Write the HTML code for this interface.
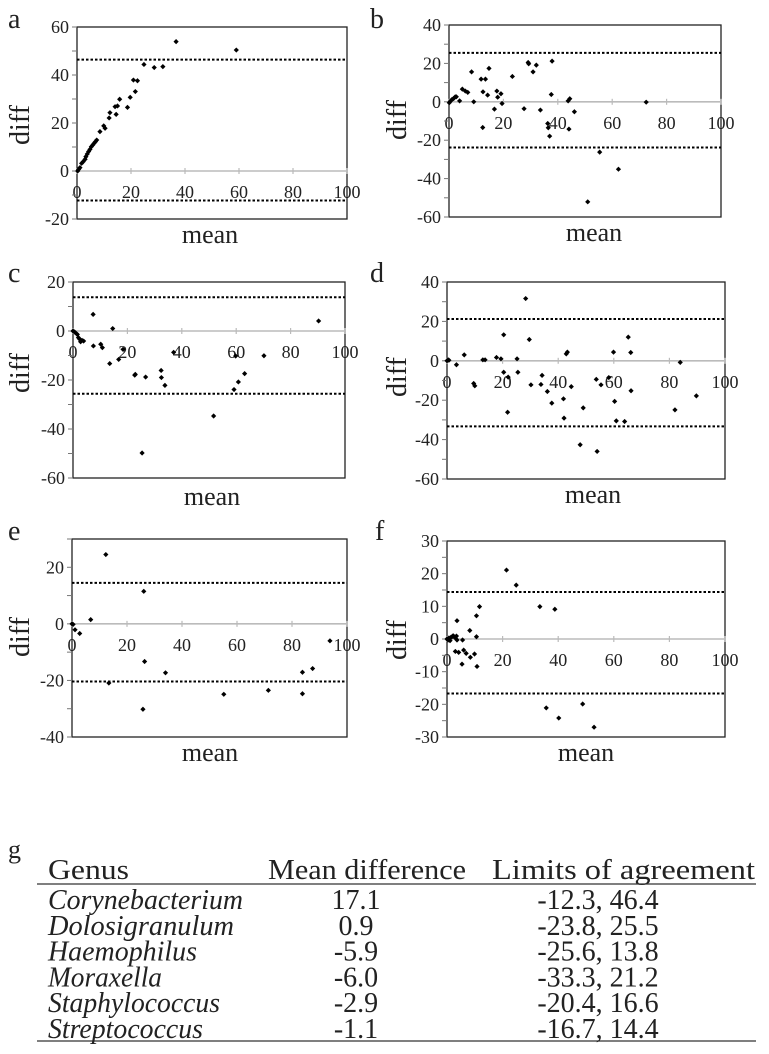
<!DOCTYPE html>
<html><head><meta charset="utf-8"><style>
body{margin:0;background:#fff;width:769px;height:1054px;overflow:hidden;font-family:"Liberation Serif",serif;}
svg{position:absolute;left:0;top:0}
text{font-family:"Liberation Serif",serif;fill:#222}
</style></head><body>
<svg id="fig" width="769" height="1054"></svg>
<script>
const aX=[0.25,0.6,1.1,1.7,2.3,3.0,3.3,3.8,4.3,4.8,5.3,5.8,6.3,6.8,7.3,8.5,9.9,10.4,11.9,12.2,14.1,14.5,15.0,15.8,18.7,19.7,20.9,21.6,22.4,24.8,28.6,31.8,36.7,59.0];
const aY=[0,0.7,1.4,3.2,3.9,4.9,6.0,7.1,8.1,9.0,10.1,10.8,11.5,12.2,12.9,16.4,18.8,17.8,22.1,24.3,26.8,23.6,27.1,29.9,26.5,30.7,37.9,33.1,37.6,44.4,43.1,43.5,53.9,50.4];
const bX=[0.1,0.5,1.1,1.7,2.3,2.7,3.9,4.9,6.0,6.9,8.3,9.1,11.8,12.4,12.5,13.4,14.2,14.7,16.7,17.6,17.9,19.1,19.5,23.3,27.6,29.1,29.3,30.9,32.1,33.6,36.3,36.5,37.0,37.6,37.9,43.8,44.1,44.4,46.1,51.0,55.4,62.3,72.5];
const bY=[-0.5,0.3,1.2,1.7,2.6,2.6,0.5,6.6,5.6,4.9,15.6,0,11.8,-13.4,5.2,11.8,3.5,17.4,-3.8,5.6,2.4,4.2,-0.9,13.2,-3.6,20.5,19.8,15.6,19.1,-4.3,-11.3,-13.5,-17.9,3.8,21.2,0.5,-14.2,1.6,-5.2,-52.1,-26.2,-35.1,-0.2];
const cX=[0,0.6,1.2,1.6,2.0,2.5,2.8,3.3,3.9,7.4,7.5,10.2,10.8,13.5,14.6,16.8,18.4,22.7,22.9,26.7,32.4,32.5,33.8,25.4,37.0,51.7,59.2,59.8,60.8,63.1,70.2,90.3];
const cY=[0,-0.4,-1.0,-1.4,-2.7,-3.4,-4.4,-3.8,-4.1,6.8,-6.1,-5.4,-6.8,-13.3,1.0,-11.6,-7.5,-18.0,-17.7,-18.8,-16.1,-19.0,-22.2,-49.8,-8.7,-34.7,-23.9,-10.2,-20.8,-17.4,-10.1,4.1];
const dX=[0,0.4,0.7,3.4,6.2,9.6,10.0,12.9,13.7,17.8,19.4,20.4,20.4,21.8,22.0,25.2,25.5,28.3,29.6,30.2,33.8,34.2,36.1,37.7,41.9,42.1,42.9,43.3,44.7,47.9,49.0,53.7,54.0,55.4,58.2,59.9,60.3,60.9,63.9,65.2,66.1,66.2,82.0,83.9,89.7];
const dY=[0,0.5,0.3,-2.0,3.0,-11.5,-12.7,0.5,0.5,1.7,1.0,13.2,-5.8,-26.1,-8.3,1.0,-5.8,31.6,10.8,-12.2,-12.0,-7.4,-15.6,-21.5,-19.3,-29.1,3.5,4.4,-13.1,-42.6,-23.9,-9.4,-46.0,-12.2,-8.5,4.4,-20.6,-30.5,-30.8,12.0,4.2,-15.2,-24.9,-0.8,-17.8];
const eX=[0,0.4,1.1,2.8,6.8,12.3,13.4,26.1,26.4,25.8,34.0,55.2,71.4,83.8,83.8,87.5,93.8];
const eY=[0,-0.2,-2.1,-3.4,1.5,24.5,-20.9,11.5,-13.3,-30.2,-17.3,-24.9,-23.5,-17.1,-24.7,-15.8,-6.0];
const fX=[0,0.4,0.7,1.1,1.4,1.8,2.2,2.6,3.0,3.4,3.6,3.6,3.0,4.2,5.4,5.6,6.0,6.9,8.2,8.4,9.9,10.6,10.6,10.8,11.7,21.4,24.9,33.4,35.7,38.8,40.2,48.8,52.9];
const fY=[0,-0.3,0.3,-0.5,0.5,0.7,1.0,0.7,0.3,0.9,-0.3,5.6,-3.8,-4.1,-7.7,-0.3,-3.4,-4.4,2.6,-5.6,-4.6,7.1,0.7,-8.4,9.9,21.1,16.5,9.9,-21.1,9.1,-24.2,-19.9,-27.0];
const limLower=[-12.3,-23.8,-25.6,-33.3,-20.4,-16.7];
const limUpper=[46.4,25.5,13.8,21.2,14.5,14.4];
const xTicks=[0,20,40,60,80,100];
const genus=["Corynebacterium","Dolosigranulum","Haemophilus","Moraxella","Staphylococcus","Streptococcus"];
const meanDiff=["17.1","0.9","-5.9","-6.0","-2.9","-1.1"];
const limitsText=["-12.3, 46.4","-23.8, 25.5","-25.6, 13.8","-33.3, 21.2","-20.4, 16.6","-16.7, 14.4"];
const genusWidths=[195,186,149,114,172,155];

const NS="http://www.w3.org/2000/svg";
const svg=document.getElementById('fig');
function mk(tag,attrs,parent){const e=document.createElementNS(NS,tag);for(const k in attrs)e.setAttribute(k,attrs[k]);(parent||svg).appendChild(e);return e;}

const panels=[
 {id:'a',L:77,R:347,T:27,B:219,ymin:-20,ymax:60,step:20,xs:aX,ys:aY,lx:8,ly:28,dx:20,dy:125,mx:210,my:243},
 {id:'b',L:449,R:721,T:25,B:217,ymin:-60,ymax:40,step:20,xs:bX,ys:bY,lx:370,ly:28,dx:397,dy:120,mx:594,my:241},
 {id:'c',L:73,R:345,T:282,B:478,ymin:-60,ymax:20,step:20,xs:cX,ys:cY,lx:8,ly:282,dx:20,dy:373,mx:212,my:505},
 {id:'d',L:447,R:725,T:282,B:479,ymin:-60,ymax:40,step:20,xs:dX,ys:dY,lx:370,ly:282,dx:397,dy:377,mx:593,my:503},
 {id:'e',L:72,R:347,T:539,B:737,ymin:-40,ymax:30,step:20,xs:eX,ys:eY,lx:8,ly:540,dx:20,dy:637,mx:210,my:761},
 {id:'f',L:447,R:725,T:541,B:737,ymin:-30,ymax:30,step:10,xs:fX,ys:fY,lx:375,ly:540,dx:397,dy:640,mx:586,my:761}
];
panels.forEach((p,i)=>{
 const g=mk('g',{});
 
 
 const xs=v=>p.L+(v/100)*(p.R-p.L);
 const ys=v=>p.B-(v-p.ymin)/(p.ymax-p.ymin)*(p.B-p.T);
 const lt=mk('text',{x:p.lx,y:p.ly,'font-size':28},g);lt.textContent=p.id;
 
 const box=mk('rect',{x:p.L,y:p.T,width:p.R-p.L,height:p.B-p.T,fill:'none',stroke:'#222','stroke-width':1.3},g);
 
 const z=ys(0);
 const zl=mk('line',{x1:p.L,x2:p.R,y1:z,y2:z,stroke:'#bbb','stroke-width':1.6},g);
 
 xTicks.forEach(t=>{
  mk('line',{x1:xs(t),x2:xs(t),y1:z-3,y2:z+3,stroke:'#bbb','stroke-width':1.2},g);
  const tx=mk('text',{x:xs(t),y:z+27,'font-size':18,'text-anchor':'middle'},g);tx.textContent=t;
  
 });
 const half=p.step/2;
 for(let v=p.ymin;v<=p.ymax+0.001;v+=half){
  mk('line',{x1:p.L-5,x2:p.L,y1:ys(v),y2:ys(v),stroke:'#777','stroke-width':1},g);
  const k=Math.round((v-p.ymin)/p.step*1000)/1000;
  if(Number.isInteger(k) && v!==p.ymax || (v===p.ymax && (p.ymax-p.ymin)%p.step===0)){
   const ty=mk('text',{x:p.L-8,y:ys(v)+6,'font-size':18,'text-anchor':'end'},g);ty.textContent=Math.round(v);
   
  }
 }
 [limLower[i],limUpper[i]].forEach(v=>{
  const dl=mk('line',{x1:p.L,x2:p.R,y1:ys(v),y2:ys(v),stroke:'#000','stroke-width':2,'stroke-dasharray':'2.5,2'},g);
  
 });
 p.xs.forEach((xv,j)=>{
  const cx=xs(xv),cy=ys(p.ys[j]);
  const pt=mk('polygon',{points:`${cx},${cy-2.6} ${cx+2.6},${cy} ${cx},${cy+2.6} ${cx-2.6},${cy}`,fill:'#000'},g);
  
 });
 const dt=mk('text',{x:p.dx,y:p.dy,'font-size':28,'text-anchor':'middle',transform:`rotate(-90 ${p.dx} ${p.dy})`,dy:9},g);dt.textContent='diff';
 
 const mt=mk('text',{x:p.mx,y:p.my,'font-size':26,'text-anchor':'middle'},g);mt.textContent='mean';
 
});

// table g
const tg=mk('g',{});


const gl=mk('text',{x:8,y:858,'font-size':26},tg);gl.textContent='g';

const heads=[["Genus",48,81],["Mean difference",268,198],["Limits of agreement",492,263]];
heads.forEach(h=>{const t=mk('text',{x:h[1],y:879,'font-size':28,textLength:h[2],lengthAdjust:'spacingAndGlyphs'},tg);t.textContent=h[0];
 });
mk('line',{x1:37,x2:756,y1:884,y2:884,stroke:'#333','stroke-width':1.3},tg);
mk('line',{x1:37,x2:756,y1:1041,y2:1041,stroke:'#333','stroke-width':1.3},tg);
genus.forEach((gname,i)=>{
 const y=909+i*25.8;
 const a=mk('text',{x:48,y:y,'font-size':28,'font-style':'italic',textLength:genusWidths[i],lengthAdjust:'spacingAndGlyphs'},tg);a.textContent=gname;
 
 const b=mk('text',{x:356,y:y,'font-size':28,'text-anchor':'middle'},tg);b.textContent=meanDiff[i];
 
 const c=mk('text',{x:598,y:y,'font-size':28,'text-anchor':'middle'},tg);c.textContent=limitsText[i];
 
});
</script>
</body></html>
